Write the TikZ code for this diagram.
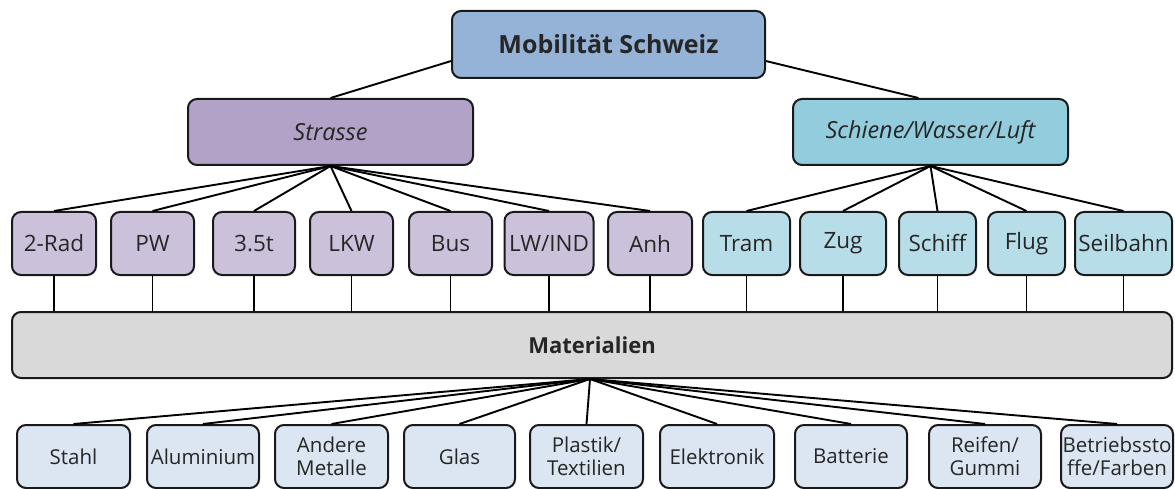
\documentclass[tikz,border=0pt]{standalone}
\usepackage{fontspec}
\setmainfont{Open Sans}
\definecolor{cmob}{HTML}{95B3D7}
\definecolor{cstr}{HTML}{B3A2C7}
\definecolor{cstrc}{HTML}{CCC1DA}
\definecolor{csch}{HTML}{93CDDD}
\definecolor{cschc}{HTML}{B7DEE8}
\definecolor{cmat}{HTML}{D9D9D9}
\definecolor{cmatc}{HTML}{DCE6F2}
\definecolor{ctext}{HTML}{262626}
\begin{document}
\begin{tikzpicture}[x=1pt,y=-1pt,
  box/.style={draw=black!90, line width=2pt, rounded corners=9pt, inner sep=0pt,
    align=center, text=ctext, font=\fontsize{22.5}{25}\selectfont},
  rowtwo/.style={box, minimum height=63pt},
  roadc/.style={rowtwo, fill=cstrc},
  railc/.style={rowtwo, fill=cschc},
  matc/.style={box, fill=cmatc, minimum height=63pt, font=\fontsize{20.5}{23.5}\selectfont},
  conn/.style={draw=black, line width=1.9pt}]
\useasboundingbox (0,0) rectangle (1175,489);
% top
\node[box, fill=cmob, minimum width=313pt, minimum height=67pt,
  font=\fontsize{25}{28}\selectfont\bfseries] (mob) at (608.5,44.5) {Mobilität Schweiz};
\node[box, fill=cstr, minimum width=285pt, minimum height=66pt,
  font=\fontsize{23.5}{26}\selectfont\itshape] (str) at (330.5,132) {Strasse};
\node[box, fill=csch, minimum width=275pt, minimum height=66pt,
  font=\fontsize{23.5}{26}\selectfont\itshape] (sch) at (930.5,132) {Schiene/Wasser/Luft};
% row 2
\node[roadc, minimum width=84pt] (r1) at (54,243.5) {2-Rad};
\node[roadc, minimum width=83pt] (r2) at (152.5,243.5) {PW};
\node[roadc, minimum width=82pt] (r3) at (254,243.5) {3.5t};
\node[roadc, minimum width=83pt] (r4) at (351.5,243.5) {LKW};
\node[roadc, minimum width=83pt] (r5) at (450.5,243.5) {Bus};
\node[roadc, minimum width=89pt] (r6) at (549,243.5) {LW/IND};
\node[roadc, minimum width=84pt] (r7) at (650,243.5) {Anh};
\node[railc, minimum width=87pt] (s1) at (746.5,243.5) {Tram};
\node[railc, minimum width=86pt] (s2) at (843,243.5) {Zug};
\node[railc, minimum width=77pt] (s3) at (937.5,243.5) {Schiff};
\node[railc, minimum width=77pt] (s4) at (1026.5,243.5) {Flug};
\node[railc, minimum width=97pt] (s5) at (1123.5,243.5) {Seilbahn};
% materialien
\node[box, fill=cmat, minimum width=1160pt, minimum height=66pt,
  font=\fontsize{22}{25}\selectfont\bfseries] (mat) at (592,345) {Materialien};
% row 3
\node[matc, minimum width=113pt] (m1) at (73.5,456.5) {Stahl};
\node[matc, minimum width=112pt] (m2) at (203,456.5) {Aluminium};
\node[matc, minimum width=113pt] (m3) at (331.5,456.5) {Andere\\Metalle};
\node[matc, minimum width=111pt] (m4) at (459.5,456.5) {Glas};
\node[matc, minimum width=113pt] (m5) at (586.5,456.5) {Plastik/\\Textilien};
\node[matc, minimum width=114pt] (m6) at (717,456.5) {Elektronik};
\node[matc, minimum width=112pt] (m7) at (851,456.5) {Batterie};
\node[matc, minimum width=112pt] (m8) at (985,456.5) {Reifen/\\Gummi};
\node[matc, minimum width=112pt] (m9) at (1117,456.5) {Betriebssto\\ffe/Farben};
% connectors
\draw[conn] (mob.186) -- (str.north);
\draw[conn] (mob.-6) -- ([xshift=-12pt]sch.north);
\foreach \n in {r1,r2,r3,r4,r5,r6,r7}
  \draw[conn] (str.south) -- (\n.north);
\foreach \n in {s1,s2,s3,s4,s5}
  \draw[conn] (sch.south) -- (\n.north);
\foreach \n in {r1,r2,r3,r4,r5,r6,r7,s1,s2,s3,s4,s5}
  \draw[conn] (\n.south) -- (\n.south |- mat.north);
\foreach \n in {m1,m2,m3,m4,m5,m6,m7,m8,m9}
  \draw[conn] ([xshift=-2pt]mat.south) -- (\n.north);
\end{tikzpicture}
\end{document}
